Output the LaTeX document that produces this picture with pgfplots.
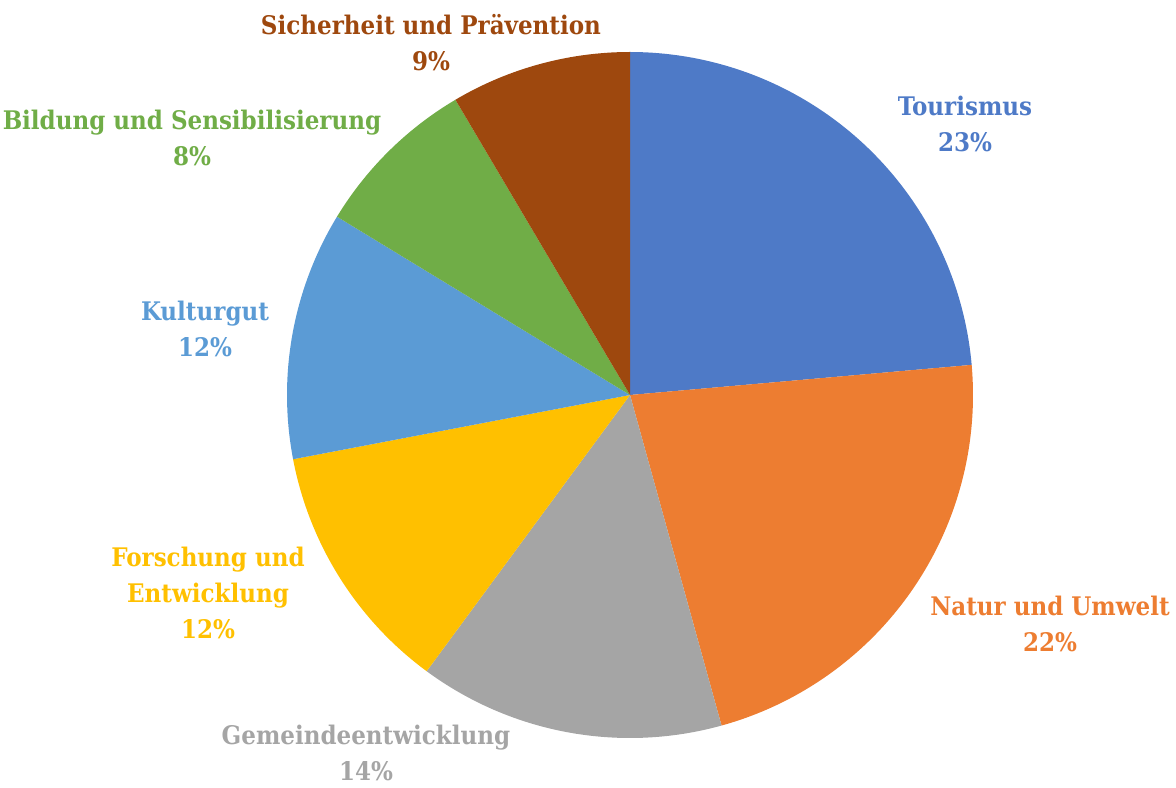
\documentclass[border=0pt]{standalone}
\usepackage{pgfplots}
\pgfplotsset{compat=1.18}
\usepackage{fontspec}
\setmainfont{DejaVu Serif}[BoldFont={DejaVu Serif Condensed Bold}]
\definecolor{cTour}{HTML}{4E7AC7}
\definecolor{cNat}{HTML}{ED7D31}
\definecolor{cGem}{HTML}{A5A5A5}
\definecolor{cFor}{HTML}{FFC000}
\definecolor{cKul}{HTML}{5B9BD5}
\definecolor{cBil}{HTML}{70AD47}
\definecolor{cSic}{HTML}{9E480E}
\tikzset{lab/.style={font=\fontsize{12.8}{18}\selectfont\bfseries, align=center, inner sep=0pt}}
\begin{document}
\begin{tikzpicture}
\begin{axis}[
  width=588pt, height=393.5pt, scale only axis,
  xmin=0, xmax=1176, ymin=0, ymax=787,
  axis lines=none, clip=false,
]
\def\cum{0}
\pgfplotsforeachungrouped \v/\c in {23.6/cTour, 22.1/cNat, 14.4/cGem, 11.9/cFor, 11.7/cKul, 7.8/cBil, 8.5/cSic}{%
  \pgfmathsetmacro\a{90-3.6*\cum}%
  \pgfmathsetmacro\cum{\cum+\v}%
  \pgfmathsetmacro\b{90-3.6*\cum}%
  \edef\tmp{\noexpand\addplot[fill=\c, draw=none, domain=\b:\a, samples=90]
    ({630+343*cos(x)},{392+343*sin(x)}) -- (axis cs:630,392) -- cycle;}%
  \tmp
}
\node[lab, text=cTour] at (axis cs:965,663) {Tourismus\\23\%};
\node[lab, text=cNat] at (axis cs:1050,163) {Natur und Umwelt\\22\%};
\node[lab, text=cGem] at (axis cs:366,34) {Gemeindeentwicklung\\14\%};
\node[lab, text=cFor] at (axis cs:208,194) {Forschung und\\Entwicklung\\12\%};
\node[lab, text=cKul] at (axis cs:205,458.5) {Kulturgut\\12\%};
\node[lab, text=cBil] at (axis cs:192,649.5) {Bildung und Sensibilisierung\\8\%};
\node[lab, text=cSic] at (axis cs:431,744.5) {Sicherheit und Prävention\\9\%};
\end{axis}
\pgfresetboundingbox
\path (current axis.south west) rectangle (current axis.north east);
\end{tikzpicture}
\end{document}
